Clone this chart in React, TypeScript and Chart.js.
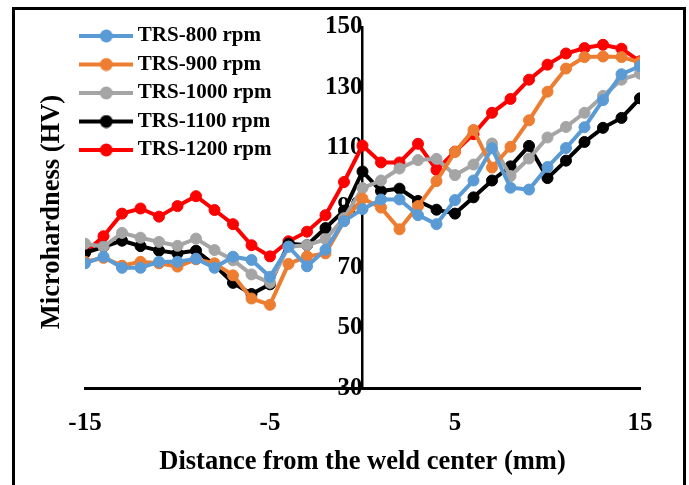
import React, { useEffect, useRef } from 'react';
import { Chart, registerables } from 'chart.js';

Chart.register(...registerables);

const positions = [-15, -14, -13, -12, -11, -10, -9, -8, -7, -6, -5, -4, -3, -2, -1, 0, 1, 2, 3, 4, 5, 6, 7, 8, 9, 10, 11, 12, 13, 14, 15];

const trs800 = [71.5, 73.7, 70, 70, 72, 72, 73, 70, 73.7, 72.6, 67, 77, 70.5, 76, 85.5, 89.5, 92.7, 92.7, 87.5, 84.5, 92.5, 99, 109.7, 96.6, 96, 103.5, 109.8, 116.7, 125.7, 134.3, 137];
const trs900 = [72, 73.3, 70.7, 72, 71.5, 70.4, 72.8, 71.5, 67.5, 59.8, 57.7, 71.3, 73.8, 74.8, 85.5, 93, 90, 82.8, 90.5, 98.8, 108.5, 115.8, 103.3, 110.2, 119, 128.5, 136.2, 140, 140.2, 140, 138.3];
const trs1000 = [78, 77, 81.6, 80, 78.6, 77.3, 79.7, 75.9, 72.5, 67.8, 65, 77, 77.5, 79.5, 86.5, 96.5, 99, 103, 105.8, 106.2, 100.8, 104.3, 111.3, 100.5, 106.3, 113.3, 116.8, 121.5, 127.1, 132.5, 134.5];
const trs1100 = [75, 77, 79, 77.2, 75.7, 74.8, 75.7, 70.9, 65, 61.3, 64.5, 78, 77.5, 83.2, 89, 102, 95.5, 96.3, 92.2, 89.3, 88, 93.4, 99, 103.7, 110.5, 99.8, 105.6, 111.8, 116.5, 119.8, 126.3];
const trs1200 = [75, 80.5, 88, 89.7, 87, 90.5, 93.8, 89.2, 84.5, 77.5, 73.8, 78.8, 82, 87.5, 98.5, 110.6, 105, 105, 111.2, 102.5, 108.6, 114.4, 121.5, 126.1, 132.5, 137.5, 141.2, 143, 144.1, 142.8, 138.6];

const seriesNames = ['TRS-800 rpm', 'TRS-900 rpm', 'TRS-1000 rpm', 'TRS-1100 rpm', 'TRS-1200 rpm'];
const seriesColors = ['#5B9BD5', '#ED7D31', '#A5A5A5', '#000000', '#FF0000'];
const seriesValues = [trs800, trs900, trs1000, trs1100, trs1200];

const xTicks = [-15, -5, 5, 15];
const yTicks = [30, 50, 70, 90, 110, 130, 150];

const xTitle = 'Distance from the weld center (mm)';
const yTitle = 'Microhardness (HV)';

const FONT = '"Liberation Serif", "Times New Roman", serif';

function makeLegendImage(color: string): HTMLCanvasElement {
  const c = document.createElement('canvas');
  c.width = 54;
  c.height = 14;
  const ctx = c.getContext('2d')!;
  ctx.strokeStyle = color;
  ctx.lineWidth = 4;
  ctx.beginPath();
  ctx.moveTo(0, 7);
  ctx.lineTo(54, 7);
  ctx.stroke();
  ctx.fillStyle = color;
  ctx.beginPath();
  ctx.arc(27, 7, 6.5, 0, Math.PI * 2);
  ctx.fill();
  return c;
}

const framePlugin = {
  id: 'frame',
  beforeDraw(chart: any) {
    const ctx = chart.ctx;
    ctx.save();
    ctx.fillStyle = '#ffffff';
    ctx.fillRect(0, 0, chart.width, chart.height);
    ctx.strokeStyle = '#000';
    ctx.lineWidth = 3;
    ctx.strokeRect(13.5, 8.5, 671, 520);
    ctx.restore();
  },
};

const yTitlePlugin = {
  id: 'yTitle',
  afterDraw(chart: any) {
    const ctx = chart.ctx;
    ctx.save();
    ctx.translate(52, 212);
    ctx.rotate(-Math.PI / 2);
    ctx.font = `bold 26.5px ${FONT}`;
    ctx.fillStyle = '#000';
    ctx.textAlign = 'center';
    ctx.textBaseline = 'middle';
    ctx.fillText(yTitle, 0, 0);
    ctx.restore();
  },
};

const legendPlacePlugin = {
  id: 'legendPlace',
  afterLayout(chart: any) {
    const lg = chart.legend;
    if (!lg) return;
    lg.left = 77.8;
    lg.top = 18;
    lg.right = 400;
    lg.bottom = 300;
  },
};

export default function App() {
  const ref = useRef<HTMLCanvasElement>(null);

  useEffect(() => {
    if (!ref.current) return;
    const images = seriesColors.map(makeLegendImage);
    const datasets = seriesNames.map((name, i) => ({
      label: name,
      data: positions.map((x, j) => ({ x, y: seriesValues[i][j] })),
      borderColor: seriesColors[i],
      backgroundColor: seriesColors[i],
      pointBackgroundColor: seriesColors[i],
      pointBorderColor: seriesColors[i],
      borderWidth: 4,
      pointRadius: 5.5,
      pointBorderWidth: 1,
      tension: 0,
      fill: false,
    }));

    const chart = new Chart(ref.current, {
      type: 'line',
      data: { datasets },
      plugins: [framePlugin, yTitlePlugin, legendPlacePlugin],
      options: {
        animation: false,
        responsive: false,
        devicePixelRatio: 1,
        layout: { padding: { left: 85, right: 49, top: 27, bottom: 7 } },
        plugins: {
          tooltip: { enabled: false },
          legend: {
            position: 'chartArea',
            align: 'start',
            labels: {
              color: '#000',
              font: { family: FONT, size: 21, weight: 'bold' },
              usePointStyle: true,
              pointStyleWidth: 42,
              padding: 7.5,
              generateLabels: (c: any) =>
                Chart.defaults.plugins.legend.labels.generateLabels(c).map((l: any, i: number) => ({
                  ...l,
                  pointStyle: images[i],
                  fontColor: '#000',
                })),
            },
          },
        },
        scales: {
          x: {
            type: 'linear',
            min: -15,
            max: 15,
            afterBuildTicks: (s: any) => {
              s.ticks = xTicks.map((v) => ({ value: v }));
            },
            grid: { display: false, drawTicks: false },
            border: { display: true, color: '#000', width: 3 },
            ticks: {
              color: '#000',
              font: { family: FONT, size: 25, weight: 'bold' },
              padding: 20,
              maxRotation: 0,
              autoSkip: false,
            },
            title: {
              display: true,
              text: xTitle,
              color: '#000',
              font: { family: FONT, size: 26.5, weight: 'bold' },
              padding: { top: -12, bottom: 0 },
            },
          },
          y: {
            type: 'linear',
            min: 30,
            max: 150,
            position: { x: 0 },
            afterBuildTicks: (s: any) => {
              s.ticks = yTicks.map((v) => ({ value: v }));
            },
            grid: { display: false, drawTicks: true, tickLength: 22 },
            border: { display: true, color: '#000', width: 2.5 },
            ticks: {
              color: '#000',
              font: { family: FONT, size: 25, weight: 'bold' },
              padding: 0,
            },
          },
        },
      } as any,
    });
    return () => chart.destroy();
  }, []);

  return (
    <div style={{ position: 'absolute', left: 0, top: 0, width: 689, height: 485 }}>
      <canvas ref={ref} width={689} height={485} style={{ display: 'block' }} />
    </div>
  );
}
